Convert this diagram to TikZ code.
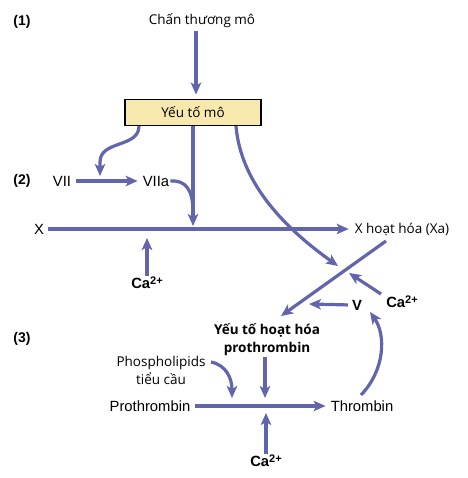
\documentclass[tikz,border=0pt]{standalone}
\usepackage{fontspec}
\setmainfont{Liberation Sans}
\newfontfamily\vnfont{Open Sans}
\usetikzlibrary{arrows.meta, positioning}
\definecolor{flowblue}{RGB}{98,100,172}
\definecolor{boxyellow}{RGB}{247,232,174}
\newcommand{\ionsup}[1]{\raisebox{0.5ex}{\fontsize{11}{11}\selectfont #1}}

\begin{document}
\begin{tikzpicture}[x=1pt, y=-1pt,
    flow/.style={draw=flowblue, line width=3.2pt, -{Stealth[length=12pt, width=10.5pt, inset=3pt]}},
    bar/.style={draw=flowblue, line width=3.2pt},
    lbl/.style={font=\fontsize{14.8}{16}\selectfont, inner sep=1pt},
    ion/.style={font=\fontsize{14.8}{16}\selectfont\bfseries, inner sep=1pt},
    vn/.style={font=\vnfont\fontsize{13.5}{18}\selectfont, inner sep=1pt, align=center},
    vnbold/.style={vn, font=\vnfont\bfseries\fontsize{13.5}{18}\selectfont},
    stage/.style={font=\fontsize{14}{16}\selectfont\bfseries}]
\useasboundingbox (0,0) rectangle (467,478);

% stage numbers
\node[stage] (stageA) at (22,22) {(1)};
\node[stage] (stageB) at (22,181) {(2)};
\node[stage] (stageC) at (22,339) {(3)};

% tissue factor
\node[vn] (injury) at (202,21) {Chấn thương mô};
\node[vn, draw=black, line width=1.8pt, fill=boxyellow, minimum width=136, minimum height=26] (tf) at (193,112.5) {Yếu tố mô};
\draw[flow] (injury.south -| tf.north) ++(3,2) -- ([xshift=3pt, yshift=4pt]tf.north);

% factor VII
\node[lbl] (vii) at (62,181) {VII};
\node[lbl] (viia) at (156,181) {VIIa};
\draw[flow, shorten <=4pt, shorten >=4pt] (vii) -- (viia);
\coordinate (tfL) at (139,126);
\coordinate (viiTip) at (100,176);
\draw[flow] (tfL) .. controls (139,148) and (100,140) .. (100,162) -- (viiTip);

% factor X
\node[lbl] (x) at (39,229) {X};
\node[vn] (xa) at (402,229) {X hoạt hóa (Xa)};
\draw[flow, shorten <=3pt, shorten >=5pt] (x) -- (xa);
\coordinate (xTip) at (193,226);
\draw[flow] (tf.south) -- (xTip);
\draw[bar] (viia.east) .. controls (186,180) and (193,190) .. (193,212);
\node[ion] (caA) at (147,283) {Ca\ionsup{2+}};
\coordinate (caATip) at (147,238);
\draw[flow] (caA.north) -- (caATip);

% towards prothrombin activator
\coordinate (tfR) at (236,126);
\coordinate (crossTip) at (338,266);
\draw[flow] (tfR) .. controls (241,186) and (289,231) .. (crossTip);
\node[vnbold] (act) at (267,340) {Yếu tố hoạt hóa\\prothrombin};
\coordinate (xaStart) at (386,241);
\coordinate (actTip) at (281,316);
\draw[flow] (xaStart) -- (actTip);
\node[ion] (caB) at (402,302) {Ca\ionsup{2+}};
\coordinate (caBStart) at (381,294);
\coordinate (caBTip) at (349,273);
\draw[flow] (caBStart) -- (caBTip);
\node[ion] (v) at (357,305) {V};
\coordinate (vTip) at (309,304);
\draw[flow, shorten <=3pt] (v.west) -- (vTip);

% prothrombin to thrombin
\node[lbl] (pro) at (150,406) {Prothrombin};
\node[lbl] (thr) at (362,406) {Thrombin};
\draw[flow, shorten <=3pt, shorten >=4pt] (pro) -- (thr);
\node[vn] (phos) at (161,370) {Phospholipids\\tiểu cầu};
\coordinate (phosStart) at (211,362);
\coordinate (phosTip) at (232,398);
\draw[flow] (phosStart) .. controls (226,365) and (232,378) .. (phosTip);
\coordinate (actDown) at (265,398);
\draw[flow] (act.south -| actDown) -- (actDown);
\node[ion] (caC) at (266,461) {Ca\ionsup{2+}};
\coordinate (caCTip) at (266,413);
\draw[flow] (caC.north) -- (caCTip);
\coordinate (thrStart) at (361,395);
\coordinate (thrTip) at (370,312);
\draw[flow] (thrStart) .. controls (385,370) and (386,335) .. (thrTip);
\end{tikzpicture}
\end{document}
